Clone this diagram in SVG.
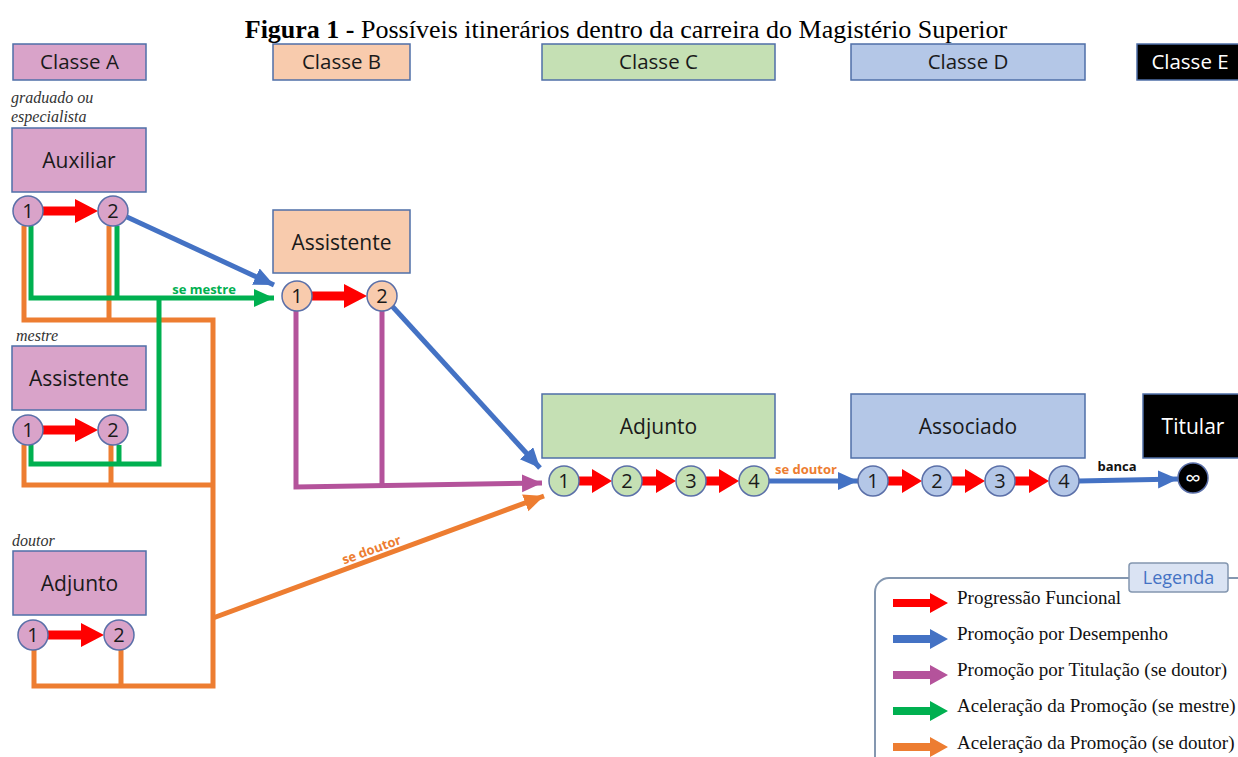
<svg xmlns="http://www.w3.org/2000/svg" width="1238" height="757" viewBox="0 0 1238 757">
<defs>
<style>
.hdr{stroke:#4f6fa8;stroke-width:1.5}
.cA{fill:#d9a3c9}.cB{fill:#f8cbad}.cC{fill:#c5e0b4}.cD{fill:#b4c7e7}.cE{fill:#000}
.cir{stroke:#5a6fa8;stroke-width:1.5}
.t{font-family:"Open Sans","Liberation Sans",sans-serif;fill:#1a1a1a;text-anchor:middle}
.h{font-size:20.5px}
.n{font-size:21px}
.d{font-size:20px}
.it{font-family:"Liberation Serif",serif;font-style:italic;font-size:16px;fill:#333}
.red{fill:#ff0000}
.ln{fill:none;stroke-width:5;stroke-linejoin:miter}
.blue{stroke:#4472c4}.green{stroke:#00b050}.orange{stroke:#ed7d31}.purple{stroke:#b4539b}
.lbl{font-family:"Open Sans","Liberation Sans",sans-serif;font-weight:bold;font-size:13px;text-anchor:middle}
.lg{font-family:"Liberation Serif",serif;font-size:19px;fill:#111}
</style>
<marker id="mb" markerUnits="userSpaceOnUse" markerWidth="24" markerHeight="20" refX="20" refY="9" orient="auto"><path d="M0,0 L20,9 L0,18 Z" fill="#4472c4"/></marker>
<marker id="mg" markerUnits="userSpaceOnUse" markerWidth="24" markerHeight="20" refX="20" refY="9" orient="auto"><path d="M0,0 L20,9 L0,18 Z" fill="#00b050"/></marker>
<marker id="mo" markerUnits="userSpaceOnUse" markerWidth="24" markerHeight="20" refX="20" refY="9" orient="auto"><path d="M0,0 L20,9 L0,18 Z" fill="#ed7d31"/></marker>
<marker id="mp" markerUnits="userSpaceOnUse" markerWidth="24" markerHeight="20" refX="20" refY="9" orient="auto"><path d="M0,0 L20,9 L0,18 Z" fill="#b4539b"/></marker>
</defs>
<rect width="1238" height="757" fill="#fff"/>

<text x="626" y="38" text-anchor="middle" font-family="'Liberation Serif',serif" font-size="26" fill="#000"><tspan font-weight="bold">Figura 1 - </tspan>Possíveis itinerários dentro da carreira do Magistério Superior</text>

<g id="headers">
<g id="classeA"><rect class="hdr cA" x="13" y="44" width="133" height="36"/><text class="t h" x="79.5" y="69">Classe A</text></g>
<g id="classeB"><rect class="hdr cB" x="273" y="44" width="137" height="36"/><text class="t h" x="341.5" y="69">Classe B</text></g>
<g id="classeC"><rect class="hdr cC" x="542" y="44" width="233" height="36"/><text class="t h" x="658.5" y="69">Classe C</text></g>
<g id="classeD"><rect class="hdr cD" x="851" y="44" width="234" height="36"/><text class="t h" x="968" y="69">Classe D</text></g>
<g id="classeE"><rect class="hdr cE" x="1137" y="44" width="110" height="36"/><text class="t h" x="1190" y="69" style="fill:#fff">Classe E</text></g>
</g>

<text class="it" x="11" y="103">graduado ou</text>
<text class="it" x="11" y="122">especialista</text>
<text class="it" x="16" y="341">mestre</text>
<text class="it" x="12" y="546">doutor</text>

<g id="connectors">
<path class="ln orange" d="M24,226 V320 H213 V686 H34 V650"/>
<path class="ln orange" d="M109,226 V320"/>
<path class="ln orange" d="M24,445 V485 H213"/>
<path class="ln orange" d="M111,445 V485"/>
<path class="ln orange" d="M121,650 V686"/>
<path class="ln orange" d="M213,618 L544,496" marker-end="url(#mo)"/>
<path class="ln green" d="M31,226 V298 H274" marker-end="url(#mg)"/>
<path class="ln green" d="M117,226 V298"/>
<path class="ln green" d="M31,445 V464 H159 V298"/>
<path class="ln green" d="M119,445 V464"/>
<path class="ln purple" d="M296,311 V487 L542,483" marker-end="url(#mp)"/>
<path class="ln purple" d="M382,311 V487"/>
<path class="ln blue" d="M127,217 L274,285" marker-end="url(#mb)"/>
<path class="ln blue" d="M392,306 L540,468" marker-end="url(#mb)"/>
<path class="ln blue" d="M769,481 L858,481" marker-end="url(#mb)"/>
<path class="ln blue" d="M1079,481 L1178,479" marker-end="url(#mb)"/>
<path class="red" d="M43,206.5 H75 V199 L98,211 L75,223 V215.5 H43 Z"/>
<path class="red" d="M43,425.5 H75 V418 L98,430 L75,442 V434.5 H43 Z"/>
<path class="red" d="M48,630.5 H81 V623 L104,635 L81,647 V639.5 H48 Z"/>
<path class="red" d="M312,291.5 H344 V284 L367,296 L344,308 V300.5 H312 Z"/>
<path class="red" d="M579,476.5 H592 V469 L612,481 L592,493 V485.5 H579 Z"/>
<path class="red" d="M642,476.5 H656 V469 L676,481 L656,493 V485.5 H642 Z"/>
<path class="red" d="M706,476.5 H719 V469 L739,481 L719,493 V485.5 H706 Z"/>
<path class="red" d="M888,476.5 H902 V469 L922,481 L902,493 V485.5 H888 Z"/>
<path class="red" d="M952,476.5 H965 V469 L985,481 L965,493 V485.5 H952 Z"/>
<path class="red" d="M1015,476.5 H1029 V469 L1049,481 L1029,493 V485.5 H1015 Z"/>
<text class="lbl" x="204" y="294" fill="#00b050">se mestre</text>
<text class="lbl" x="806" y="474" fill="#ed7d31">se doutor</text>
<text class="lbl" x="1117" y="471" fill="#111">banca</text>
<text class="lbl" x="373" y="554" fill="#ed7d31" font-size="14" transform="rotate(-20 373 554)">se doutor</text>
</g>

<g id="auxiliarA">
<rect class="hdr cA" x="12" y="128" width="134" height="64"/><text class="t n" x="79" y="168">Auxiliar</text>
<circle class="cir cA" cx="28" cy="211" r="15"/><text class="t d" x="28" y="218">1</text>
<circle class="cir cA" cx="113" cy="211" r="15"/><text class="t d" x="113" y="218">2</text>
</g>
<g id="assistenteA">
<rect class="hdr cA" x="12" y="346" width="134" height="64"/><text class="t n" x="79" y="386">Assistente</text>
<circle class="cir cA" cx="28" cy="430" r="15"/><text class="t d" x="28" y="437">1</text>
<circle class="cir cA" cx="113" cy="430" r="15"/><text class="t d" x="113" y="437">2</text>
</g>
<g id="adjuntoA">
<rect class="hdr cA" x="13" y="551" width="133" height="64"/><text class="t n" x="79.5" y="591">Adjunto</text>
<circle class="cir cA" cx="33" cy="635" r="15"/><text class="t d" x="33" y="642">1</text>
<circle class="cir cA" cx="119" cy="635" r="15"/><text class="t d" x="119" y="642">2</text>
</g>
<g id="assistenteB">
<rect class="hdr cB" x="273" y="210" width="137" height="63"/><text class="t n" x="341.5" y="250">Assistente</text>
<circle class="cir cB" cx="297" cy="296" r="15"/><text class="t d" x="297" y="303">1</text>
<circle class="cir cB" cx="382" cy="296" r="15"/><text class="t d" x="382" y="303">2</text>
</g>
<g id="adjuntoC">
<rect class="hdr cC" x="542" y="394" width="233" height="64"/><text class="t n" x="658.5" y="434">Adjunto</text>
<circle class="cir cC" cx="564" cy="481" r="15"/><text class="t d" x="564" y="488">1</text>
<circle class="cir cC" cx="627" cy="481" r="15"/><text class="t d" x="627" y="488">2</text>
<circle class="cir cC" cx="691" cy="481" r="15"/><text class="t d" x="691" y="488">3</text>
<circle class="cir cC" cx="754" cy="481" r="15"/><text class="t d" x="754" y="488">4</text>
</g>
<g id="associadoD">
<rect class="hdr cD" x="851" y="394" width="234" height="64"/><text class="t n" x="968" y="434">Associado</text>
<circle class="cir cD" cx="873" cy="481" r="15"/><text class="t d" x="873" y="488">1</text>
<circle class="cir cD" cx="937" cy="481" r="15"/><text class="t d" x="937" y="488">2</text>
<circle class="cir cD" cx="1000" cy="481" r="15"/><text class="t d" x="1000" y="488">3</text>
<circle class="cir cD" cx="1064" cy="481" r="15"/><text class="t d" x="1064" y="488">4</text>
</g>
<g id="titularE">
<rect class="hdr cE" x="1143" y="394" width="100" height="64"/><text class="t n" x="1193" y="434" style="fill:#fff">Titular</text>
<circle class="cir cE" cx="1193" cy="478" r="15"/><text class="t" x="1193" y="486" font-size="22" style="fill:#fff">∞</text>
</g>

<g id="legend">
<rect x="875" y="578" width="420" height="220" rx="14" fill="none" stroke="#8497b0" stroke-width="2"/>
<rect x="1129" y="563" width="99" height="29" rx="3" fill="#dae3f3" stroke="#8497b0" stroke-width="1.5"/>
<text x="1178.5" y="584" text-anchor="middle" font-family="'Open Sans','Liberation Sans',sans-serif" font-size="18" fill="#4472c4">Legenda</text>
<path fill="#ff0000" d="M893,599 H930 V593 L948,603 L930,613 V607 H893 Z"/>
<path fill="#4472c4" d="M893,635 H930 V629 L948,639 L930,649 V643 H893 Z"/>
<path fill="#b4539b" d="M893,671 H930 V665 L948,675 L930,685 V679 H893 Z"/>
<path fill="#00b050" d="M893,707 H930 V701 L948,711 L930,721 V715 H893 Z"/>
<path fill="#ed7d31" d="M893,743 H930 V737 L948,747 L930,757 V751 H893 Z"/>
<text class="lg" x="957" y="604">Progressão Funcional</text>
<text class="lg" x="957" y="640">Promoção por Desempenho</text>
<text class="lg" x="957" y="676">Promoção por Titulação (se doutor)</text>
<text class="lg" x="957" y="712">Aceleração da Promoção (se mestre)</text>
<text class="lg" x="957" y="749">Aceleração da Promoção (se doutor)</text>
</g>
</svg>
